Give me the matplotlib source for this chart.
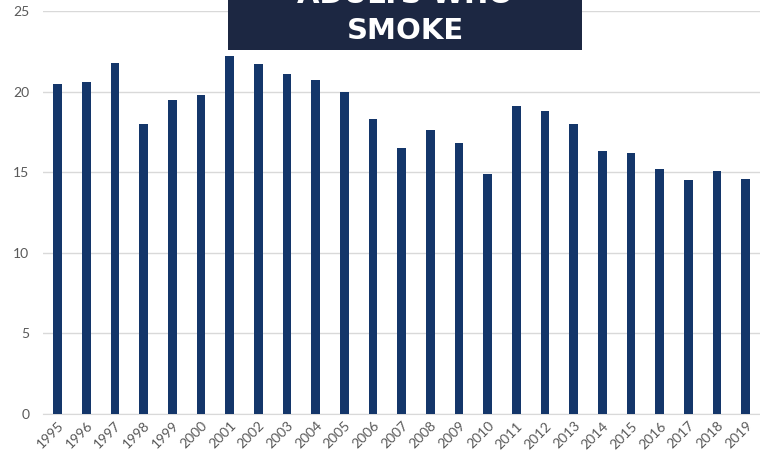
import matplotlib
matplotlib.use("Agg")
import matplotlib.pyplot as plt
from matplotlib.patches import Rectangle

years = [str(y) for y in range(1995, 2020)]
values = [20.5, 20.6, 21.8, 18.0, 19.5, 19.8, 22.2, 21.7, 21.1, 20.7, 20.0, 18.3,
          16.5, 17.6, 16.8, 14.9, 19.1, 18.8, 18.0, 16.3, 16.2, 15.2, 14.5, 15.1, 14.6]
yticks = [0, 5, 10, 15, 20, 25]
title_lines = ["ADULTS WHO", "SMOKE"]

plt.rcParams['font.family'] = ['Lato', 'DejaVu Sans']

fig = plt.figure(figsize=(7.6, 4.57), dpi=100)
ax = fig.add_axes([0.057, 0.094, 0.943, 0.882])
x = list(range(len(years)))
ax.bar(x, values, width=0.31, color='#14366a', zorder=3)
ax.set_xlim(-0.5, len(years) - 0.5)
ax.set_ylim(0, 25)
ax.set_yticks(yticks)
ax.set_xticks(x)
ax.set_xticklabels(years, rotation=45, ha='right', rotation_mode='anchor')
ax.grid(axis='y', color='#d9d9d9', linewidth=1, zorder=0)
for s in ['top', 'right', 'left']:
    ax.spines[s].set_visible(False)
ax.spines['bottom'].set_color('#d9d9d9')
ax.tick_params(axis='both', length=0, colors='#595959', labelsize=10)
ax.tick_params(axis='y', pad=10)
ax.tick_params(axis='x', pad=4)

# title box
fig.patches.append(Rectangle((228 / 760, 1 - 50 / 457), (582 - 228) / 760, 60 / 457,
                             transform=fig.transFigure, facecolor='#1c2742',
                             edgecolor='none', zorder=10))
fig.text(405 / 760, 1 - 31 / 457, title_lines[1], color='white', fontsize=21,
         fontweight='bold', ha='center', va='center', zorder=11, family=['DejaVu Sans'])
fig.text(405 / 760, 1 + 5 / 457, title_lines[0], color='white', fontsize=21,
         fontweight='bold', ha='center', va='center', zorder=11, family=['DejaVu Sans'])

fig.savefig('out.png', dpi=100)
